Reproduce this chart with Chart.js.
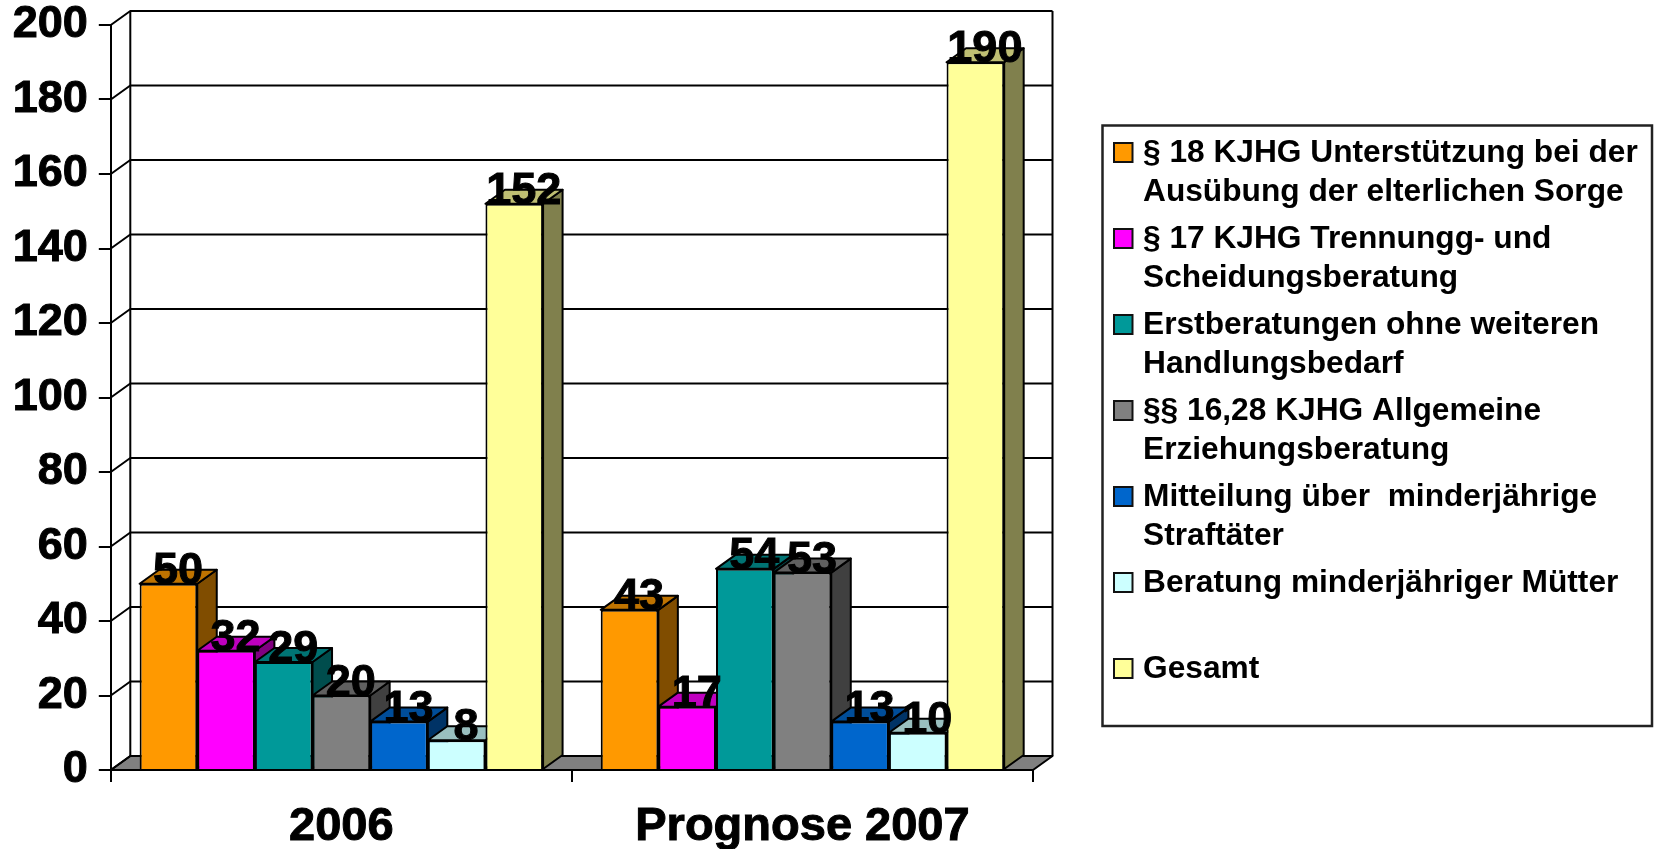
<!DOCTYPE html>
<html><head><meta charset="utf-8">
<style>html,body{margin:0;padding:0;background:#fff}canvas{display:block}</style>
<script src="https://cdn.jsdelivr.net/npm/chart.js@4"></script>
</head><body><canvas id="c" width="1654" height="849"></canvas>
<script>
const categories = ["2006", "Prognose 2007"];
const v18 = [50, 43];
const v17 = [32, 17];
const vErst = [29, 54];
const v16 = [20, 53];
const vMitt = [13, 13];
const vMuet = [8, 10];
const vGesamt = [152, 190];
const labels18 = ["§ 18 KJHG Unterstützung bei der", "Ausübung der elterlichen Sorge"];
const labels17 = ["§ 17 KJHG Trennungg- und", "Scheidungsberatung"];
const labelsErst = ["Erstberatungen ohne weiteren", "Handlungsbedarf"];
const labels16 = ["§§ 16,28 KJHG Allgemeine", "Erziehungsberatung"];
const labelsMitt = ["Mitteilung über  minderjährige", "Straftäter"];
const labelsMuet = ["Beratung minderjähriger Mütter"];
const labelsGesamt = ["Gesamt"];
const colors = ["#FF9900", "#FF00FF", "#009999", "#808080", "#0066CC", "#CCFFFF", "#FFFF99"];

const FONT = '"Liberation Sans", Arial, sans-serif';
const DX = 19.5, DY = 14, LW = 2;
const shade = (hex, f) => {
  const n = parseInt(hex.slice(1), 16);
  return `rgb(${Math.round((n >> 16 & 255) * f)},${Math.round((n >> 8 & 255) * f)},${Math.round((n & 255) * f)})`;
};
const poly = (ctx, pts, fill) => {
  ctx.beginPath();
  pts.forEach((p, i) => i ? ctx.lineTo(p[0], p[1]) : ctx.moveTo(p[0], p[1]));
  ctx.closePath();
  if (fill) { ctx.fillStyle = fill; ctx.fill(); }
  ctx.stroke();
};

const threeD = {
  id: 'threeD',
  beforeDatasetsDraw(chart) {
    const ctx = chart.ctx, y = chart.scales.y, a = chart.chartArea;
    ctx.save();
    ctx.strokeStyle = '#000'; ctx.lineWidth = LW; ctx.lineJoin = 'round';
    poly(ctx, [[a.left, a.bottom], [a.right, a.bottom], [a.right + DX, a.bottom - DY], [a.left + DX, a.bottom - DY]], '#808080');
    y.ticks.forEach(t => {
      const py = y.getPixelForValue(t.value);
      ctx.beginPath();
      ctx.moveTo(a.left, py);
      ctx.lineTo(a.left + DX, py - DY);
      ctx.lineTo(a.right + DX, py - DY);
      ctx.stroke();
    });
    const top = y.getPixelForValue(200) - DY, bot = y.getPixelForValue(0) - DY;
    ctx.beginPath();
    ctx.moveTo(a.left + DX, top); ctx.lineTo(a.left + DX, bot);
    ctx.moveTo(a.right + DX, top); ctx.lineTo(a.right + DX, bot);
    ctx.stroke();
    categories.forEach((_, ci) => {
      chart.data.datasets.forEach((ds, di) => {
        const b = chart.getDatasetMeta(di).data[ci];
        const l = b.x - b.width / 2, r = b.x + b.width / 2, t = b.y, bt = b.base;
        poly(ctx, [[r, t], [r + DX, t - DY], [r + DX, bt - DY], [r, bt]], shade(colors[di], 0.5));
        poly(ctx, [[l, t], [l + DX, t - DY], [r + DX, t - DY], [r, t]], shade(colors[di], 0.75));
      });
    });
    ctx.restore();
  },
  afterDatasetsDraw(chart) {
    const ctx = chart.ctx;
    ctx.save();
    ctx.fillStyle = '#000'; ctx.strokeStyle = '#000'; ctx.lineWidth = 1;
    ctx.font = 'bold 45px ' + FONT;
    ctx.textAlign = 'center'; ctx.textBaseline = 'alphabetic';
    chart.data.datasets.forEach((ds, di) => {
      chart.getDatasetMeta(di).data.forEach((b, i) => {
        ctx.fillText(String(ds.data[i]), b.x + 9.5, b.y);
        ctx.strokeText(String(ds.data[i]), b.x + 9.5, b.y);
      });
    });
    ctx.restore();
  },
  afterDraw(chart) {
    const ctx = chart.ctx;
    ctx.save();
    ctx.strokeStyle = '#222'; ctx.lineWidth = 2.5;
    ctx.strokeRect(1102.5, 125.5, 549.5, 600.5);
    ctx.font = 'bold 31.7px ' + FONT;
    ctx.textAlign = 'left'; ctx.textBaseline = 'alphabetic';
    chart.data.datasets.forEach((ds, i) => {
      const base = 162 + 86 * i;
      ctx.fillStyle = colors[i]; ctx.strokeStyle = '#111'; ctx.lineWidth = 2;
      ctx.fillRect(1114, base - 19, 18.5, 19);
      ctx.strokeRect(1114, base - 19, 18.5, 19);
      ctx.fillStyle = '#000';
      ds.legendLines.forEach((line, k) => ctx.fillText(line, 1143, base + 39 * k));
    });
    ctx.restore();
  }
};

const allValues = [v18, v17, vErst, v16, vMitt, vMuet, vGesamt];
const allLabels = [labels18, labels17, labelsErst, labels16, labelsMitt, labelsMuet, labelsGesamt];

new Chart(document.getElementById('c'), {
  type: 'bar',
  data: {
    labels: categories,
    datasets: allValues.map((d, i) => ({
      label: allLabels[i].join(' '),
      legendLines: allLabels[i],
      data: d,
      backgroundColor: colors[i],
      borderColor: '#000',
      borderWidth: 2
    }))
  },
  plugins: [threeD],
  options: {
    responsive: false,
    devicePixelRatio: 1,
    animation: false,
    layout: { padding: { top: 25, right: 621, left: 0, bottom: 0 } },
    datasets: { bar: { barPercentage: 1, categoryPercentage: 0.875 } },
    plugins: { legend: { display: false }, tooltip: { enabled: false } },
    scales: {
      x: {
        afterFit(s) { s.height = 79; s.paddingLeft = 0; s.paddingRight = 0; },
        grid: { drawOnChartArea: false, drawTicks: true, tickLength: 12, color: '#000', lineWidth: 2 },
        border: { display: true, color: '#000', width: 2 },
        ticks: { color: '#000', font: { family: FONT, size: 47, weight: 'bold' }, padding: 17, maxRotation: 0, minRotation: 0, autoSkip: false, textStrokeColor: '#000', textStrokeWidth: 1 }
      },
      y: {
        min: 0, max: 200,
        afterFit(s) { s.width = 110.8; s.paddingTop = 0; s.paddingBottom = 0; },
        grid: { drawOnChartArea: false, drawTicks: true, tickLength: 12, color: '#000', lineWidth: 2 },
        border: { display: true, color: '#000', width: 2 },
        ticks: { stepSize: 20, color: '#000', font: { family: FONT, size: 45, weight: 'bold' }, padding: 11, textStrokeColor: '#000', textStrokeWidth: 1 }
      }
    }
  }
});
</script></body></html>
